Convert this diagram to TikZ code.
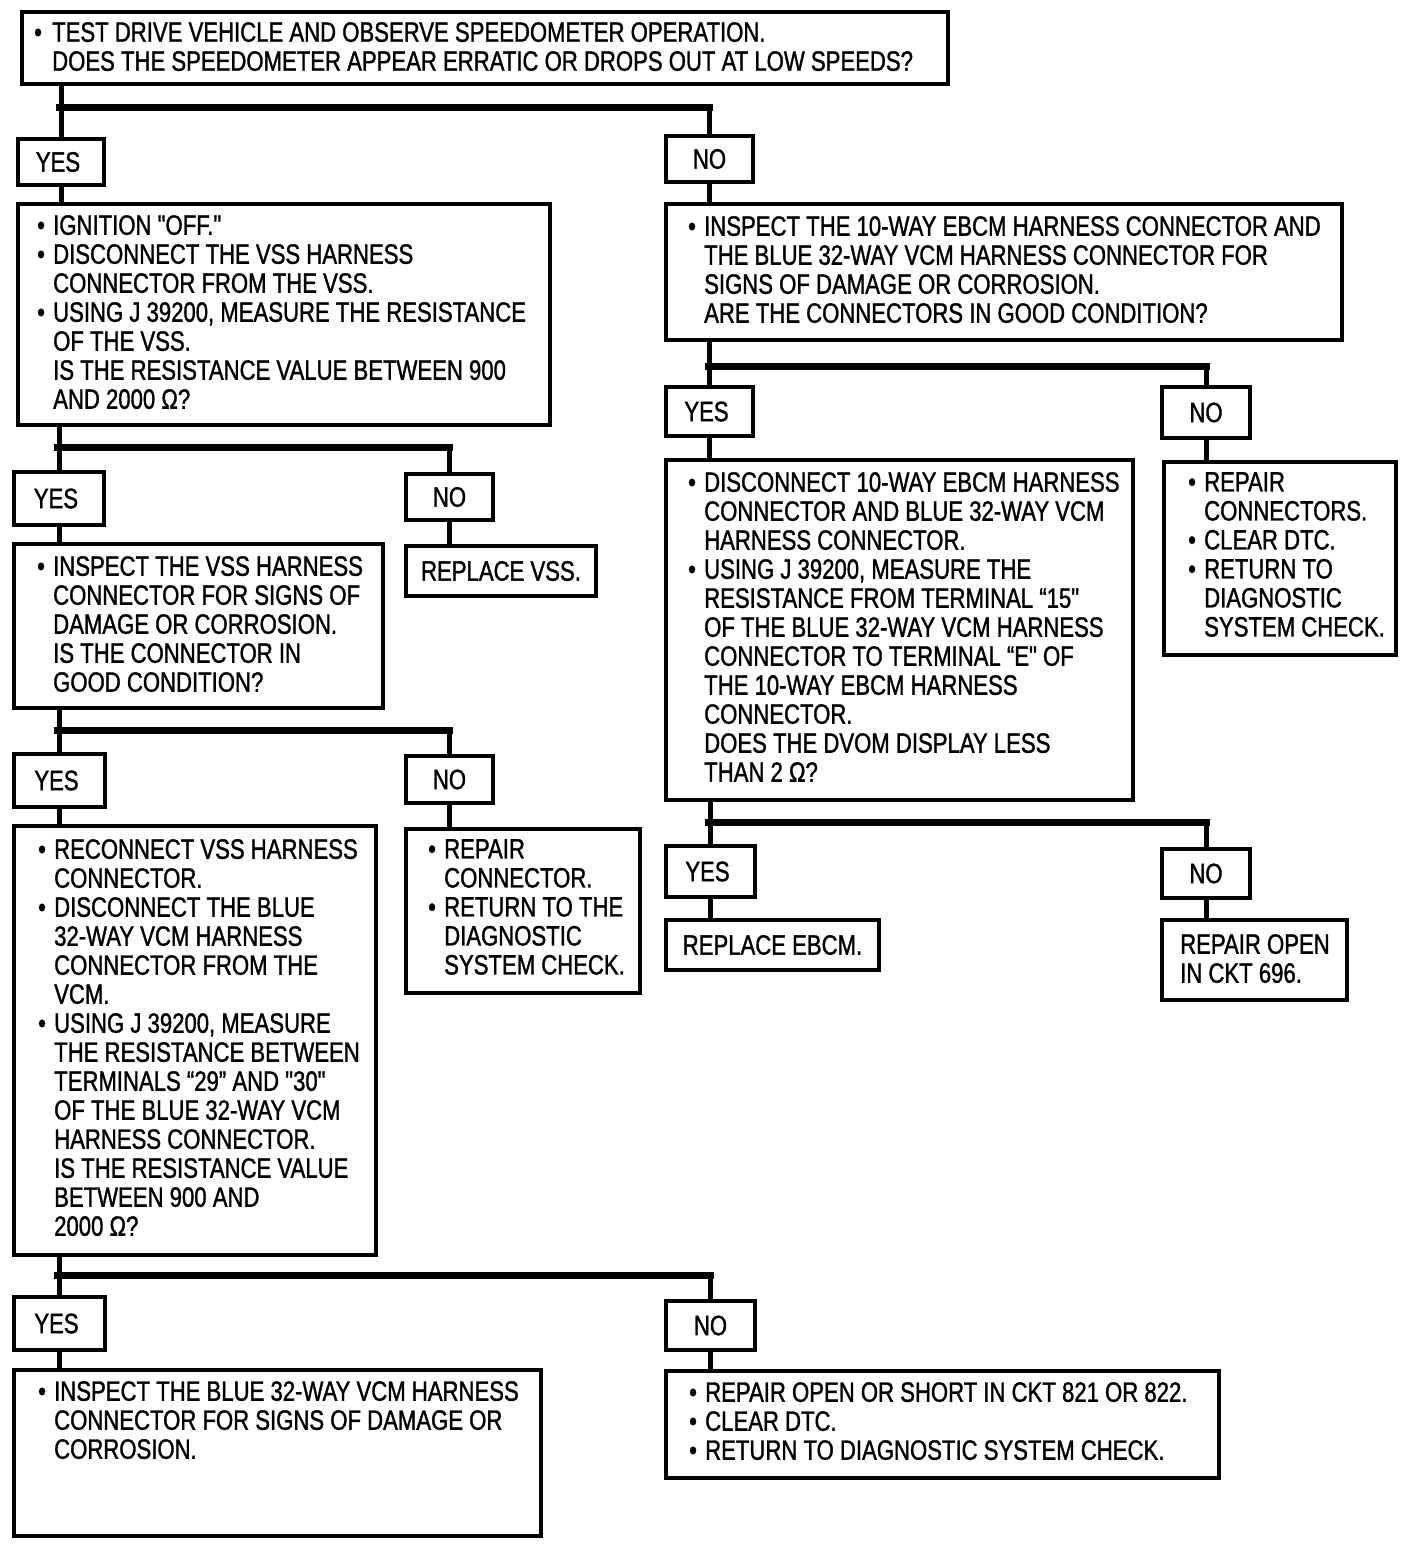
\documentclass[tikz,border=0pt]{standalone}
\usepackage{fontspec}
\setmainfont{Liberation Sans}[FakeStretch=0.79,FakeBold=1.2,Ligatures=TeXOff]
\newcommand\bu{\makebox[16pt][l]{•}}
\newcommand\ind{\hspace*{16pt}}
\begin{document}
\begin{tikzpicture}[x=1pt,y=-1pt,
  box/.style={draw,line width=4pt,rectangle,anchor=north west,inner sep=0pt},
  lbl/.style={box,font=\fontsize{28}{29}\selectfont},
  txt/.style={anchor=north west,inner sep=0pt,align=left,font=\fontsize{28}{29}\selectfont},
  conn/.style={line width=5pt},
  bar/.style={line width=7pt,line cap=rect}]
\useasboundingbox[fill=white] (0,0) rectangle (1408,1544);
% boxes
\node[box,minimum width=926pt,minimum height=72pt] (top) at (20,10) {};
\node[lbl,minimum width=86pt,minimum height=46pt] (yes1) at (16,137) {YES\hspace*{6pt}};
\node[lbl,minimum width=87pt,minimum height=46pt] (no1) at (664,134) {NO};
\node[box,minimum width=532pt,minimum height=221pt] (A) at (16,202) {};
\node[lbl,minimum width=90pt,minimum height=53pt] (yes2) at (12,470) {YES\hspace*{6pt}};
\node[lbl,minimum width=87pt,minimum height=46pt] (no2) at (404,472) {NO};
\node[lbl,minimum width=190pt,minimum height=50pt] (rvss) at (404,544) {REPLACE VSS.};
\node[box,minimum width=369pt,minimum height=164pt] (B) at (12,542) {};
\node[lbl,minimum width=91pt,minimum height=53pt] (yes3) at (12,752) {YES\hspace*{6pt}};
\node[lbl,minimum width=87pt,minimum height=47pt] (no3) at (404,754) {NO};
\node[box,minimum width=362pt,minimum height=429pt] (C) at (12,824) {};
\node[box,minimum width=234pt,minimum height=164pt] (D) at (404,827) {};
\node[lbl,minimum width=91pt,minimum height=53pt] (yes4) at (12,1295) {YES\hspace*{6pt}};
\node[lbl,minimum width=89pt,minimum height=49pt] (no4) at (664,1299) {NO};
\node[box,minimum width=527pt,minimum height=166pt] (E) at (12,1368) {};
\node[box,minimum width=553pt,minimum height=107pt] (F) at (664,1369) {};
\node[box,minimum width=676pt,minimum height=136pt] (G) at (664,202) {};
\node[lbl,minimum width=87pt,minimum height=49pt] (yes5) at (664,385) {YES\hspace*{6pt}};
\node[lbl,minimum width=88pt,minimum height=51pt] (no5) at (1160,385) {NO};
\node[box,minimum width=467pt,minimum height=340pt] (H) at (664,458) {};
\node[box,minimum width=232pt,minimum height=193pt] (I) at (1162,460) {};
\node[lbl,minimum width=89pt,minimum height=51pt] (yes6) at (664,844) {YES\hspace*{6pt}};
\node[lbl,minimum width=88pt,minimum height=49pt] (no6) at (1160,847) {NO};
\node[lbl,minimum width=213pt,minimum height=50pt] (rebcm) at (664,918) {REPLACE EBCM.};
\node[box,minimum width=185pt,minimum height=80pt] (ropen) at (1160,918) {};
% texts
\node[txt] (topt) at (34,22) {\makebox[18pt][l]{•}TEST DRIVE VEHICLE AND OBSERVE SPEEDOMETER OPERATION.\\
\hspace*{18pt}DOES THE SPEEDOMETER APPEAR ERRATIC OR DROPS OUT AT LOW SPEEDS?};
\node[txt] (At) at (37,215) {\bu IGNITION "OFF."\\
\bu DISCONNECT THE VSS HARNESS\\
\ind CONNECTOR FROM THE VSS.\\
\bu USING J 39200, MEASURE THE RESISTANCE\\
\ind OF THE VSS.\\
\ind IS THE RESISTANCE VALUE BETWEEN 900\\
\ind AND 2000 Ω?};
\node[txt] (Bt) at (37,556) {\bu INSPECT THE VSS HARNESS\\
\ind CONNECTOR FOR SIGNS OF\\
\ind DAMAGE OR CORROSION.\\
\ind IS THE CONNECTOR IN\\
\ind GOOD CONDITION?};
\node[txt] (Ct) at (38,839) {\bu RECONNECT VSS HARNESS\\
\ind CONNECTOR.\\
\bu DISCONNECT THE BLUE\\
\ind 32-WAY VCM HARNESS\\
\ind CONNECTOR FROM THE\\
\ind VCM.\\
\bu USING J 39200, MEASURE\\
\ind THE RESISTANCE BETWEEN\\
\ind TERMINALS “29” AND "30"\\
\ind OF THE BLUE 32-WAY VCM\\
\ind HARNESS CONNECTOR.\\
\ind IS THE RESISTANCE VALUE\\
\ind BETWEEN 900 AND\\
\ind 2000 Ω?};
\node[txt] (Dt) at (428,839) {\bu REPAIR\\
\ind CONNECTOR.\\
\bu RETURN TO THE\\
\ind DIAGNOSTIC\\
\ind SYSTEM CHECK.};
\node[txt] (Et) at (38,1381) {\bu INSPECT THE BLUE 32-WAY VCM HARNESS\\
\ind CONNECTOR FOR SIGNS OF DAMAGE OR\\
\ind CORROSION.};
\node[txt] (Ft) at (689,1382) {\bu REPAIR OPEN OR SHORT IN CKT 821 OR 822.\\
\bu CLEAR DTC.\\
\bu RETURN TO DIAGNOSTIC SYSTEM CHECK.};
\node[txt] (Gt) at (688,216) {\bu INSPECT THE 10-WAY EBCM HARNESS CONNECTOR AND\\
\ind THE BLUE 32-WAY VCM HARNESS CONNECTOR FOR\\
\ind SIGNS OF DAMAGE OR CORROSION.\\
\ind ARE THE CONNECTORS IN GOOD CONDITION?};
\node[txt] (Ht) at (688,472) {\bu DISCONNECT 10-WAY EBCM HARNESS\\
\ind CONNECTOR AND BLUE 32-WAY VCM\\
\ind HARNESS CONNECTOR.\\
\bu USING J 39200, MEASURE THE\\
\ind RESISTANCE FROM TERMINAL “15"\\
\ind OF THE BLUE 32-WAY VCM HARNESS\\
\ind CONNECTOR TO TERMINAL “E" OF\\
\ind THE 10-WAY EBCM HARNESS\\
\ind CONNECTOR.\\
\ind DOES THE DVOM DISPLAY LESS\\
\ind THAN 2 Ω?};
\node[txt] (It) at (1188,472) {\bu REPAIR\\
\ind CONNECTORS.\\
\bu CLEAR DTC.\\
\bu RETURN TO\\
\ind DIAGNOSTIC\\
\ind SYSTEM CHECK.};
\node[txt] (ropent) at (1180,934) {REPAIR OPEN\\IN CKT 696.};
% junction coordinates
\coordinate (j1) at (59,108);
\coordinate (j2) at (57,447);
\coordinate (j3) at (57,730);
\coordinate (j4) at (57,1275);
\coordinate (j5) at (708,366);
\coordinate (j6) at (708,822);
% connectors
\draw[conn] (top.south -| yes1.north) -- (yes1.north);
\draw[bar] (j1) -- (j1 -| no1.north);
\draw[conn] (j1 -| no1.north) -- (no1.north);
\draw[conn] (yes1.south) -- (yes1.south |- A.north);
\draw[conn] (no1.south) -- (no1.south |- G.north);
\draw[conn] (A.south -| yes2.north) -- (yes2.north);
\draw[bar] (j2) -- (j2 -| no2.north);
\draw[conn] (j2 -| no2.north) -- (no2.north);
\draw[conn] (yes2.south) -- (yes2.south |- B.north);
\draw[conn] (no2.south) -- (no2.south |- rvss.north);
\draw[conn] (B.south -| yes3.north) -- (yes3.north);
\draw[bar] (j3) -- (j3 -| no3.north);
\draw[conn] (j3 -| no3.north) -- (no3.north);
\draw[conn] (yes3.south) -- (yes3.south |- C.north);
\draw[conn] (no3.south) -- (no3.south |- D.north);
\draw[conn] (C.south -| yes4.north) -- (yes4.north);
\draw[bar] (j4) -- (j4 -| no4.north);
\draw[conn] (j4 -| no4.north) -- (no4.north);
\draw[conn] (yes4.south) -- (yes4.south |- E.north);
\draw[conn] (no4.south) -- (no4.south |- F.north);
\draw[conn] (G.south -| yes5.north) -- (yes5.north);
\draw[bar] (j5) -- (j5 -| no5.north);
\draw[conn] (j5 -| no5.north) -- (no5.north);
\draw[conn] (yes5.south) -- (yes5.south |- H.north);
\draw[conn] (no5.south) -- (no5.south |- I.north);
\draw[conn] (H.south -| yes6.north) -- (yes6.north);
\draw[bar] (j6) -- (j6 -| no6.north);
\draw[conn] (j6 -| no6.north) -- (no6.north);
\draw[conn] (yes6.south) -- (yes6.south |- rebcm.north);
\draw[conn] (no6.south) -- (no6.south |- ropen.north);
\end{tikzpicture}
\end{document}
